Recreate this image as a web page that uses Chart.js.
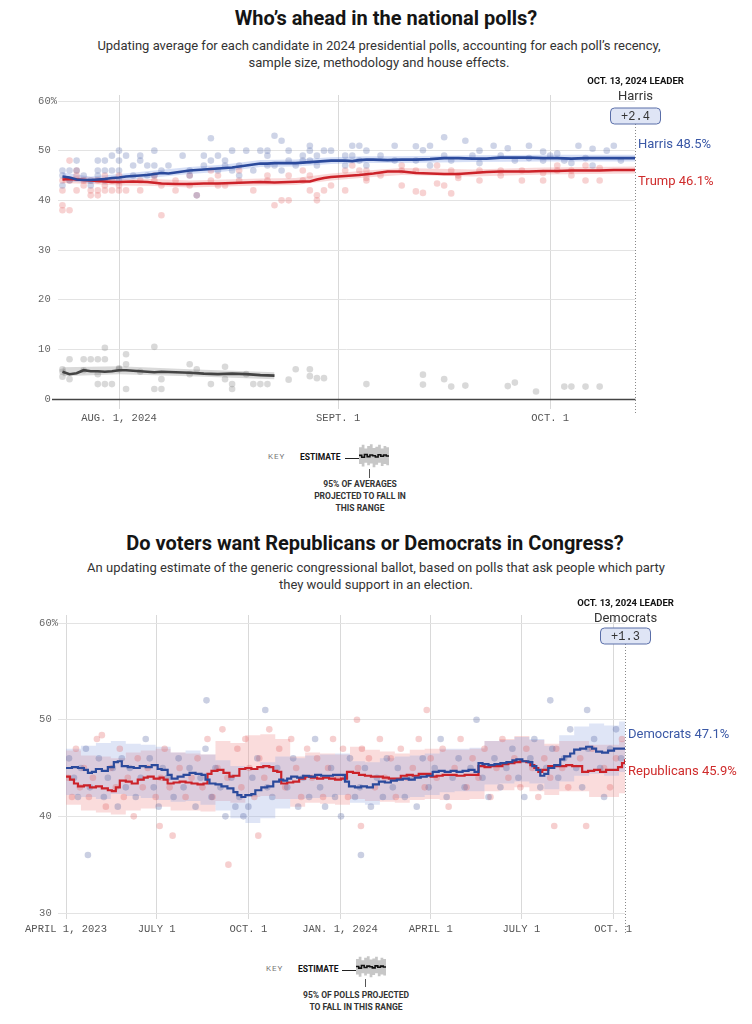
<!DOCTYPE html>
<html>
<head>
<meta charset="utf-8">
<script src="https://cdn.jsdelivr.net/npm/chart.js@4.4.1/dist/chart.umd.min.js"></script>
<style>
  html, body { margin: 0; padding: 0; background: #fff; }
  #page { position: relative; width: 752px; height: 1024px; overflow: hidden; font-family: Roboto, "Liberation Sans", sans-serif; color: #222; }
  .abs { position: absolute; }
  .title { font-weight: bold; font-size: 20px; line-height: 22px; text-align: center; color: #151515; }
  .sub { font-size: 13px; line-height: 17px; text-align: center; color: #333; }
  .key { font-size: 8px; color: #777; letter-spacing: 1px; }
  .est { font-size: 8.5px; font-weight: bold; color: #111; }
  .cap { font-size: 8.5px; font-weight: bold; color: #333; line-height: 12px; text-align: center; }
  .rule { background: #222; }
</style>
</head>
<body>
<div id="page">
  <div class="abs title" style="top:7px;left:0;width:772px;">Who’s ahead in the national polls?</div>
  <div class="abs sub" style="top:37px;left:0;width:758px;">Updating average for each candidate in 2024 presidential polls, accounting for each poll’s recency,<br>sample size, methodology and house effects.</div>
  <canvas id="polls" class="abs" width="752" height="360" style="top:70px;left:0;"></canvas>

  <div class="abs key" style="top:452px;left:268px;">KEY</div>
  <div class="abs est" style="top:452px;left:300px;">ESTIMATE</div>
  <div class="abs rule" style="top:458px;left:345px;width:14px;height:1px;"></div>
  <canvas id="key1" class="abs" width="30" height="26" style="top:443px;left:359px;"></canvas>
  <div class="abs rule" style="top:469px;left:369px;width:1px;height:9px;background:#555;"></div>
  <div class="abs cap" style="top:478px;left:300px;width:120px;">95% OF AVERAGES<br>PROJECTED TO FALL IN<br>THIS RANGE</div>

  <div class="abs title" style="top:532px;left:0;width:750px;">Do voters want Republicans or Democrats in Congress?</div>
  <div class="abs sub" style="top:559px;left:0;width:752px;">An updating estimate of the generic congressional ballot, based on polls that ask people which party<br>they would support in an election.</div>
  <canvas id="ballot" class="abs" width="752" height="350" style="top:595px;left:0;"></canvas>

  <div class="abs key" style="top:964px;left:266px;">KEY</div>
  <div class="abs est" style="top:964px;left:298px;">ESTIMATE</div>
  <div class="abs rule" style="top:970px;left:342px;width:14px;height:1px;"></div>
  <canvas id="key2" class="abs" width="30" height="24" style="top:955px;left:356px;"></canvas>
  <div class="abs rule" style="top:979px;left:365px;width:1px;height:8px;background:#555;"></div>
  <div class="abs cap" style="top:989px;left:296px;width:120px;">95% OF POLLS PROJECTED<br>TO FALL IN THIS RANGE</div>
</div>

<script>
// ---- national polls (x = days since Aug. 1, 2024) ----
const pollTickDays = [0, 31, 61];
const pollTickLabels = ['AUG. 1, 2024', 'SEPT. 1', 'OCT. 1'];
const pollYTicks = [0, 10, 20, 30, 40, 50, 60];
const pollLastDay = 73;
const pollLeader = 'Harris';
const pollMargin = '+2.4';

const harrisAvg = [[-8,44.8],[-7,44.6],[-6,44.2],[-5,44.1],[-4,44.1],[-3,44.2],[-2,44.3],[-1,44.5],[0,44.6],[1,44.8],[2,44.9],[3,45.0],[4,45.1],[5,45.3],[6,45.5],[7,45.4],[8,45.6],[9,45.8],[10,46.0],[11,46.1],[12,46.2],[13,46.3],[14,46.4],[15,46.5],[16,46.6],[17,46.8],[18,47.0],[19,47.2],[20,47.4],[21,47.4],[22,47.5],[23,47.5],[24,47.5],[25,47.5],[26,47.6],[27,47.7],[28,47.8],[29,47.9],[30,48.0],[31,48.0],[32,48.0],[33,47.9],[34,48.1],[35,48.2],[36,48.2],[38,48.1],[40,48.2],[42,48.2],[44,48.3],[46,48.5],[48,48.5],[50,48.4],[52,48.4],[54,48.6],[56,48.6],[58,48.6],[60,48.5],[62,48.5],[64,48.4],[66,48.5],[68,48.5],[70,48.5],[73,48.5]];
const trumpAvg = [[-8,44.2],[-7,44.3],[-6,44.2],[-5,44.1],[-4,44.0],[-3,43.9],[-2,43.8],[-1,43.7],[0,43.7],[2,43.8],[4,43.7],[6,43.4],[8,43.3],[10,43.3],[12,43.4],[14,43.4],[16,43.5],[18,43.6],[20,43.7],[22,43.6],[24,43.7],[26,43.8],[27,43.8],[28,44.2],[29,44.5],[30,44.7],[31,44.8],[32,44.9],[34,45.1],[36,45.4],[38,45.8],[40,45.8],[42,45.5],[44,45.4],[46,45.3],[48,45.3],[50,45.5],[52,45.7],[54,45.8],[56,45.8],[58,45.8],[60,45.9],[62,45.9],[64,46.0],[66,46.0],[68,46.0],[70,46.1],[73,46.1]];
const kennedyAvg = [[-8,5.5],[-7,5.0],[-6,5.2],[-5,5.8],[-4,5.6],[-3,5.6],[-2,5.5],[-1,5.6],[0,5.8],[1,5.8],[2,5.7],[3,5.6],[4,5.5],[5,5.4],[6,5.5],[8,5.4],[10,5.3],[12,5.1],[14,5.0],[16,5.1],[18,5.0],[20,4.8],[22,4.7]];

const harrisBand = [[-8,44.0,45.6],[-4,43.4,44.8],[0,44.0,45.3],[5,44.6,46.0],[10,45.3,46.7],[15,45.8,47.2],[20,46.7,48.1],[25,46.8,48.2],[30,47.3,48.7],[35,47.5,48.9],[40,47.5,48.9],[50,47.7,49.1],[60,47.8,49.2],[73,47.8,49.2]];
const trumpBand = [[-8,43.5,44.9],[-4,43.3,44.7],[0,43.0,44.4],[5,42.9,44.3],[10,42.6,44.0],[15,42.8,44.2],[20,43.0,44.4],[25,43.1,44.5],[30,44.0,45.4],[35,44.6,46.0],[40,45.1,46.5],[50,44.8,46.2],[60,45.2,46.6],[73,45.4,46.8]];
const kennedyBand = [[-8,4.6,6.4],[0,5.0,6.6],[10,4.6,6.0],[22,4.0,5.4]];

const harrisPolls = [[-8,46],[-8,45],[-8,43],[-7,46],[-7,44],[-6,48],[-6,46],[-5,45],[-4,43],[-4,44],[-3,48],[-3,46],[-3,45],[-2,48],[-2,46],[-2,44],[-1,49],[-1,46],[0,50],[0,48],[0,46],[0,44],[1,49],[2,47],[2,45],[3,48],[3,49],[4,45],[4,47],[5,50],[5,47],[5,45],[6,46],[7,47],[9,49],[10,46],[10,45],[11,41],[12,49],[12,47],[13,52.5],[13,48],[14,49],[14,46],[15,48],[15,47],[16,50],[16,46],[17,45],[17,47],[18,50],[19,46],[20,50],[21,50],[21,49],[21,47],[22,53],[22,47],[23,52],[23,46],[24,50],[24,48],[25,47],[26,49],[26,48],[27,51],[27,50],[27,48],[28,49],[28,47],[29,50],[30,50],[32,49],[32,47],[33,51],[33,49],[34,48],[34,51],[35,50],[35,47],[37,49],[39,51],[39,48],[42,50.9],[42,48],[43,50.1],[44,51],[44,47],[46,52.7],[46,49],[47,48],[49,52],[50,49],[51,50],[51,47.5],[53,51],[54,49],[55,50.5],[56,48],[58,51],[58,48.5],[60,49.8],[60,48],[61,49],[62,49.4],[63,48],[64,47.5],[65,51],[66,48.5],[67,50.4],[67,47],[69,50],[70,51],[71,48]];
const trumpPolls = [[-8,44],[-8,39],[-8,38],[-8,42],[-7,38],[-7,44],[-7,48],[-6,42],[-6,45],[-6,46],[-5,43],[-5,44],[-4,41],[-4,42],[-3,41],[-3,44],[-3,42],[-2,43],[-2,45],[-2,42],[-1,42],[-1,44],[0,42],[0,43],[0,45],[1,42],[3,44],[3,42],[5,45],[5,44],[6,37],[6,43],[8,44],[8,42],[10,43],[10,45],[11,41],[13,44],[13,46],[14,43],[14,45],[15,43],[17,46],[17,44],[19,42],[21,45],[21,44],[22,39],[23,40],[24,40],[24,45],[26,44],[26,46],[27,42],[27,45],[28,41],[28,40],[29,42],[30,43],[32,46],[32,42],[33,47],[34,46],[35,44],[35,46],[35,44.5],[37,45],[40,46],[40,47],[40,43],[42,41.8],[42,46],[43,41.5],[45,43.4],[45,47],[46,43],[47,41.4],[47,46],[48,45],[48,44.5],[51,46],[51,44],[54,46],[54,45],[57,46],[57,44],[60,44],[60,45.5],[62,47],[62,46],[64,45],[64,46],[66,44],[66,47],[68,44],[68,46.5]];
const kennedyPolls = [[-8,5.5],[-8,6],[-8,4.5],[-7,4],[-7,8],[-5,8],[-5,5.8],[-4,8],[-3,8],[-3,3],[-3,5],[-2,10.3],[-2,8],[-2,3],[-1,3],[0,6],[0,6.2],[1,2],[1,7],[1,9],[3,5.5],[5,10.5],[5,2],[6,2],[6,4],[10,7],[10,5],[11,6],[13,3],[15,4],[15,6.5],[16,3],[16,2],[18,5],[19,3],[20,3],[21,3],[24,3.9],[25,6],[27,6],[27,4.6],[28,4.2],[29,4.2],[35,3],[43,4.9],[43,2.9],[46,4],[47,2.5],[49,2.7],[55,2.6],[56,3.3],[59,1.5],[63,2.5],[64,2.5],[66,2.5],[68,2.5]];

// ---- generic ballot (x = days since April 1, 2023) ----
const ballotTickDays = [0, 91, 183, 275, 366, 457, 549];
const ballotTickLabels = ['APRIL 1, 2023', 'JULY 1', 'OCT. 1', 'JAN. 1, 2024', 'APRIL 1', 'JULY 1', 'OCT. 1'];
const ballotYTicks = [30, 40, 50, 60];
const ballotLastDay = 561;
const ballotLeader = 'Democrats';
const ballotMargin = '+1.3';

const demAvg = [[0,45.0],[6,45.1],[12,45.0],[18,44.8],[22,44.5],[26,44.6],[30,44.9],[36,44.7],[42,45.1],[48,45.6],[52,45.7],[56,45.2],[62,45.1],[68,45.0],[74,45.2],[80,45.1],[86,45.3],[92,44.9],[96,44.8],[102,44.3],[106,43.9],[112,44.1],[118,44.3],[124,44.5],[130,44.4],[136,44.3],[140,43.8],[144,43.4],[150,43.3],[156,43.1],[162,42.9],[168,42.5],[172,42.2],[176,42.0],[180,42.2],[186,42.3],[190,42.7],[196,43.0],[202,43.1],[208,43.6],[214,43.8],[218,43.7],[222,43.9],[226,44.1],[232,44.0],[238,44.2],[244,44.1],[250,44.3],[256,44.2],[262,44.2],[268,44.3],[274,44.3],[280,43.6],[284,43.1],[290,43.0],[296,43.1],[302,43.0],[308,43.3],[314,43.6],[320,43.5],[326,43.7],[332,43.8],[338,43.9],[344,43.8],[350,44.0],[356,44.1],[362,44.2],[368,44.6],[374,44.7],[380,44.6],[386,44.7],[392,44.6],[398,44.7],[404,44.8],[410,44.6],[414,45.5],[418,45.4],[424,45.3],[430,45.4],[436,45.5],[442,45.6],[448,45.8],[452,45.9],[458,45.7],[464,45.6],[468,45.2],[472,44.8],[476,44.2],[480,44.4],[484,45.0],[490,45.3],[496,45.9],[500,46.2],[506,46.5],[510,46.9],[516,47.0],[522,47.2],[528,47.0],[532,46.7],[538,46.6],[544,46.8],[550,47.0],[556,47.0],[561,47.1]];
const repAvg = [[0,44.1],[4,43.8],[8,43.4],[12,43.1],[18,43.2],[24,43.0],[30,43.1],[36,42.9],[42,42.7],[46,42.6],[50,43.0],[54,43.7],[60,43.6],[66,43.4],[72,43.8],[78,44.0],[82,44.1],[88,43.9],[94,44.0],[98,43.8],[102,43.4],[108,43.5],[114,43.6],[120,43.5],[126,43.4],[132,43.3],[138,43.4],[142,44.4],[146,44.7],[152,44.8],[158,44.5],[164,44.1],[168,44.2],[174,44.9],[180,45.0],[186,44.9],[192,45.1],[198,45.2],[204,45.1],[208,44.7],[212,44.6],[216,43.4],[222,43.5],[228,43.6],[234,43.9],[240,44.1],[246,44.0],[252,43.9],[258,44.0],[264,43.9],[270,43.8],[276,43.9],[282,44.6],[288,44.5],[294,44.3],[300,44.2],[306,44.1],[312,44.1],[318,44.0],[324,43.9],[330,43.9],[336,44.2],[342,44.3],[348,44.2],[354,44.4],[360,44.4],[366,44.1],[372,44.2],[378,44.3],[384,44.3],[392,44.2],[400,44.3],[408,44.3],[414,45.2],[420,45.1],[426,45.2],[432,45.2],[438,45.4],[444,45.5],[450,45.6],[456,45.7],[462,45.6],[466,45.3],[470,45.0],[474,44.6],[478,44.8],[484,45.2],[490,45.2],[496,45.2],[502,45.3],[508,45.2],[514,45.2],[518,44.6],[524,44.7],[530,44.8],[536,44.6],[542,44.8],[548,44.8],[554,45.1],[558,45.5],[561,45.9]];

const demBand = [[0,42.2,47.0],[15,42.0,47.3],[30,41.8,47.6],[45,42.3,47.8],[60,42.1,47.5],[75,41.9,47.4],[90,41.7,47.2],[105,41.5,46.6],[120,41.6,46.8],[135,41.2,46.4],[150,40.6,45.8],[165,39.8,45.2],[180,39.3,44.9],[195,39.8,45.6],[210,40.8,46.2],[225,41.8,46.0],[240,41.9,46.3],[255,42.0,46.4],[270,42.2,46.5],[285,41.4,45.7],[300,41.2,45.6],[315,41.7,46.0],[330,41.9,46.2],[345,42.0,46.3],[360,42.2,46.5],[375,42.5,47.0],[390,42.6,47.0],[405,42.6,47.1],[420,43.3,47.8],[435,43.4,47.9],[450,43.6,48.2],[465,43.4,48.0],[480,42.8,47.3],[495,43.6,48.4],[510,44.2,49.3],[525,44.4,49.6],[540,44.2,49.4],[555,44.6,49.8],[561,44.7,49.9]];
const repBand = [[0,41.2,46.8],[15,40.6,46.3],[30,40.4,46.2],[45,40.2,46.0],[60,40.6,46.6],[75,40.8,46.8],[90,41.0,47.0],[105,40.6,46.6],[120,40.6,46.5],[135,40.5,46.4],[150,41.6,47.8],[165,41.4,47.6],[180,42.0,48.4],[195,42.1,48.5],[210,41.8,48.0],[225,41.0,46.2],[240,41.4,46.6],[255,41.3,46.5],[270,41.2,46.4],[285,41.8,47.2],[300,41.6,46.9],[315,41.5,46.7],[330,41.4,46.5],[345,41.7,46.9],[360,41.8,47.0],[375,41.7,46.9],[390,41.7,46.9],[405,41.8,47.0],[420,42.6,47.8],[435,42.7,48.0],[450,43.0,48.3],[465,42.6,47.9],[480,42.2,47.5],[495,42.6,47.8],[510,42.6,47.8],[525,42.0,47.4],[540,42.0,47.4],[555,42.4,47.8],[561,43.2,48.6]];

const demPolls = [[3,46],[8,44],[12,42],[15,45],[20,47],[22,36],[24,43],[33,46],[38,42],[42,44],[47,45],[52,41],[56,46],[60,43],[64,45],[70,42],[75,44],[80,48],[84,46],[88,43],[93,41],[97,45],[102,44],[108,42],[113,46],[118,43],[124,45],[130,41],[135,44],[140,47],[141,52],[146,42],[150,45],[155,43],[160,40],[166,44],[170,41],[174,42],[178,40],[183,41],[187,44],[192,46],[200,51],[202,43],[207,42],[212,45],[222,43],[228,46],[233,41],[238,44],[244,42],[250,48],[255,43],[260,41],[266,45],[270,42],[276,40],[280,44],[285,46],[290,42],[295,43],[296,36],[300,45],[306,41],[312,44],[318,42],[322,46],[328,43],[333,45],[340,42],[346,44],[352,41],[358,46],[364,43],[370,45],[376,48],[382,42],[388,44],[394,46],[400,43],[406,45],[412,50],[418,44],[424,42],[430,46],[436,43],[442,45],[448,47],[454,44],[460,42],[466,46],[470,48],[476,43],[482,45],[486,52],[488,47],[494,44],[500,46],[506,49],[512,45],[518,43],[523,51],[524,47],[530,48],[536,45],[540,42],[546,47],[552,49],[557,46]];
const repPolls = [[2,44],[6,42],[10,47],[14,43],[18,45],[23,42],[27,44],[31,48],[36,48.4],[40,41],[45,45],[50,43],[54,47],[58,42],[62,44],[68,40],[72,46],[77,43],[82,45],[90,42],[94,39],[95,44],[99,47],[104,43],[107,38],[114,45],[120,42],[126,44],[132,46],[137,43],[142,48],[147,42],[152,45],[157,49],[162,44],[163,35],[172,47],[176,43],[180,48],[184,45],[189,42],[193,38],[194,46],[199,44],[204,49],[214,47],[220,43],[226,48],[231,45],[236,42],[242,47],[247,44],[252,46],[258,42],[263,45],[268,48],[273,44],[278,47],[283,42],[292,50],[293,45],[296,39],[297,47],[304,46],[310,43],[315,48],[320,44],[326,46],[331,42],[336,47],[342,44],[348,45],[354,48],[360,43],[362,51],[366,46],[372,44],[378,47],[384,41],[390,45],[396,48],[402,43],[408,46],[414,44],[420,47],[426,42],[432,45],[438,48],[444,44],[450,46],[456,43],[462,47],[468,45],[474,42],[480,46],[486,44],[490,39],[492,47],[498,45],[504,43],[516,46],[522,39],[528,47],[540,45],[546,43],[552,46],[558,48]];

// ---- key icon ----
const keyMid = [0.2, -0.4, 0.5, -0.2, 0.3, 0.1, -0.3, 0.4, -0.1, 0.3, 0.0, 0.2];
const keyLow = [-2.6, -3.4, -2.2, -3.0, -2.4, -3.6, -2.8, -2.2, -3.2, -2.6, -3.0, -2.4];
const keyHigh = [2.8, 3.6, 2.4, 3.2, 3.8, 2.6, 3.0, 3.6, 2.4, 3.2, 2.8, 3.4];

const BLUE = '#2b4a9c', RED = '#cc2229';
const tickFont = { family: '"Liberation Mono", "DejaVu Sans Mono", monospace', size: 10.5 };

const leaderPlugin = {
  id: 'leader',
  afterDraw(chart, args, o) {
    const { ctx, chartArea, scales } = chart;
    const x = Math.round(scales.x.getPixelForValue(o.lastDay)) + 0.5;
    ctx.save();
    if (o.baseLine) {
      const y0 = Math.round(scales.y.getPixelForValue(0)) + 0.5;
      ctx.strokeStyle = '#444';
      ctx.lineWidth = 1.4;
      ctx.beginPath(); ctx.moveTo(chartArea.left - 6, y0); ctx.lineTo(x, y0); ctx.stroke();
    }
    ctx.strokeStyle = '#888';
    ctx.lineWidth = 1;
    ctx.setLineDash([1, 2]);
    ctx.beginPath(); ctx.moveTo(x, o.boxTop + 16); ctx.lineTo(x, o.dotBottom); ctx.stroke();
    ctx.setLineDash([]);

    ctx.textAlign = 'center';
    ctx.textBaseline = 'middle';
    ctx.fillStyle = '#111';
    ctx.font = 'bold 9.5px Roboto';
    ctx.fillText('OCT. 13, 2024 LEADER', x, o.headY);
    ctx.fillStyle = '#333';
    ctx.font = '13px Roboto';
    ctx.fillText(o.leader, x, o.headY + 15);

    ctx.beginPath();
    ctx.roundRect(x - 25, o.boxTop, 50, 16, 4);
    ctx.fillStyle = '#dfe5f5';
    ctx.fill();
    ctx.strokeStyle = '#5a6ea8';
    ctx.stroke();
    ctx.fillStyle = '#333';
    ctx.font = '12px "Liberation Mono", monospace';
    ctx.fillText(o.margin, x, o.boxTop + 8.5);

    ctx.textAlign = 'left';
    ctx.font = '13px Roboto';
    o.labels.forEach(l => {
      ctx.fillStyle = l.color;
      ctx.fillText(l.text, chartArea.right + 3, scales.y.getPixelForValue(l.value) + l.dy);
    });
    ctx.restore();
  }
};

const pts = arr => arr.map(d => ({ x: d[0], y: d[1] }));
const bandHigh = arr => arr.map(d => ({ x: d[0], y: d[2] }));
const bandLow = arr => arr.map(d => ({ x: d[0], y: d[1] }));

function lineSet(data, color, width, stepped) {
  return { data: pts(data), showLine: true, borderColor: color, borderWidth: width, pointRadius: 0, stepped: stepped, order: 0 };
}
function pollSet(data, color) {
  return { data: pts(data), showLine: false, backgroundColor: color, borderWidth: 0, pointRadius: 3.3, order: 1 };
}
function bandSets(data, color, stepped) {
  return [
    { data: bandHigh(data), showLine: true, borderWidth: 0, pointRadius: 0, fill: '+1', backgroundColor: color, stepped: stepped, order: 2 },
    { data: bandLow(data), showLine: true, borderWidth: 0, pointRadius: 0, fill: false, stepped: stepped, order: 2 }
  ];
}

function scalesFor(c) {
  return {
    x: {
      type: 'linear', min: c.xMin, max: c.xMax,
      afterFit: s => { s.height = c.xHeight; },
      afterBuildTicks: s => { s.ticks = c.tickDays.map(v => ({ value: v })); },
      border: { display: false },
      grid: { color: '#d9d9d9', lineWidth: 1, tickLength: c.xTickLen, drawTicks: true },
      ticks: {
        autoSkip: false, maxRotation: 0, padding: c.xPad, color: '#555', font: tickFont,
        callback: v => c.tickLabels[c.tickDays.indexOf(v)]
      }
    },
    y: {
      type: 'linear', min: c.yMin, max: c.yMax,
      afterFit: s => { s.width = c.yWidth; },
      afterBuildTicks: s => { s.ticks = c.yTicks.map(v => ({ value: v })); },
      border: { display: false },
      grid: { color: '#e3e3e3', lineWidth: 1, drawTicks: c.yTickLen > 0, tickLength: c.yTickLen },
      ticks: {
        padding: c.yPad, color: '#666', font: tickFont,
        callback: v => v === 60 ? '60%' : v + ' '
      }
    }
  };
}

new Chart(document.getElementById('polls'), {
  type: 'scatter',
  data: {
    datasets: [
      lineSet(harrisAvg, BLUE, 2.6, false),
      lineSet(trumpAvg, RED, 2.6, false),
      lineSet(kennedyAvg, '#444', 2.6, false),
      pollSet(harrisPolls, 'rgba(80,100,170,0.28)'),
      pollSet(trumpPolls, 'rgba(225,95,95,0.28)'),
      pollSet(kennedyPolls, 'rgba(110,110,110,0.26)'),
      ...bandSets(harrisBand, 'rgba(120,150,225,0.30)', false),
      ...bandSets(trumpBand, 'rgba(235,125,125,0.30)', false),
      ...bandSets(kennedyBand, 'rgba(150,150,150,0.35)', false)
    ]
  },
  options: {
    responsive: false, animation: false, events: [],
    layout: { padding: { left: 0, right: 117, top: 25, bottom: 0 } },
    plugins: {
      legend: { display: false }, tooltip: { enabled: false },
      leader: {
        lastDay: pollLastDay, baseLine: true, headY: 12, boxTop: 38, dotBottom: 345,
        leader: pollLeader, margin: pollMargin,
        labels: [
          { text: 'Harris ' + harrisAvg[harrisAvg.length - 1][1] + '%', value: harrisAvg[harrisAvg.length - 1][1], dy: -13, color: '#3a58a6' },
          { text: 'Trump ' + trumpAvg[trumpAvg.length - 1][1] + '%', value: trumpAvg[trumpAvg.length - 1][1], dy: 12, color: '#cf2b2b' }
        ]
      }
    },
    scales: scalesFor({
      xMin: -8.63, xMax: pollLastDay, xHeight: 31, xTickLen: 10, xPad: 3,
      tickDays: pollTickDays, tickLabels: pollTickLabels,
      yMin: 0, yMax: 61.21, yWidth: 58, yTickLen: 0, yPad: 1, yTicks: pollYTicks
    })
  },
  plugins: [leaderPlugin]
});

new Chart(document.getElementById('ballot'), {
  type: 'scatter',
  data: {
    datasets: [
      lineSet(demAvg, BLUE, 2.2, true),
      lineSet(repAvg, RED, 2.2, true),
      pollSet(demPolls, 'rgba(80,95,160,0.30)'),
      pollSet(repPolls, 'rgba(225,95,95,0.30)'),
      ...bandSets(demBand, 'rgba(150,170,225,0.30)', true),
      ...bandSets(repBand, 'rgba(240,145,145,0.32)', true)
    ]
  },
  options: {
    responsive: false, animation: false, events: [],
    layout: { padding: { left: 0, right: 127, top: 20, bottom: 0 } },
    plugins: {
      legend: { display: false }, tooltip: { enabled: false },
      leader: {
        lastDay: ballotLastDay, baseLine: false, headY: 9, boxTop: 33, dotBottom: 340,
        leader: ballotLeader, margin: ballotMargin,
        labels: [
          { text: 'Democrats ' + demAvg[demAvg.length - 1][1] + '%', value: demAvg[demAvg.length - 1][1], dy: -13, color: '#3a58a6' },
          { text: 'Republicans ' + repAvg[repAvg.length - 1][1] + '%', value: repAvg[repAvg.length - 1][1], dy: 12, color: '#cf2b2b' }
        ]
      }
    },
    scales: scalesFor({
      xMin: 0, xMax: ballotLastDay, xHeight: 32, xTickLen: 6, xPad: 4,
      tickDays: ballotTickDays, tickLabels: ballotTickLabels,
      yMin: 30, yMax: 60.83, yWidth: 66, yTickLen: 8, yPad: 0, yTicks: ballotYTicks
    })
  },
  plugins: [leaderPlugin]
});

function keyIcon(id) {
  const idx = keyMid.map((v, i) => i);
  new Chart(document.getElementById(id), {
    type: 'line',
    data: {
      labels: idx,
      datasets: [
        { data: keyMid, borderColor: '#111', borderWidth: 1.6, pointRadius: 0, stepped: true, order: 0 },
        { data: keyHigh, borderWidth: 0, pointRadius: 0, fill: '+1', backgroundColor: 'rgba(175,175,175,0.7)', stepped: true, order: 1 },
        { data: keyLow, borderWidth: 0, pointRadius: 0, fill: false, stepped: true, order: 1 }
      ]
    },
    options: {
      responsive: false, animation: false, events: [],
      layout: { padding: 0 },
      plugins: { legend: { display: false }, tooltip: { enabled: false } },
      scales: { x: { display: false }, y: { display: false, min: -4.2, max: 4.2 } }
    }
  });
}
keyIcon('key1');
keyIcon('key2');
</script>
</body>
</html>
